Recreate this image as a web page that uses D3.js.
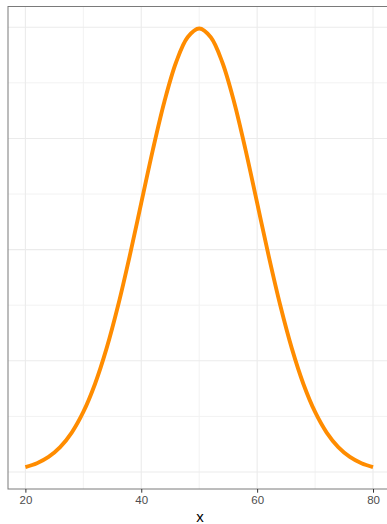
<!DOCTYPE html>
<html><head><meta charset="utf-8">
<script src="https://cdn.jsdelivr.net/npm/d3@7"></script>
<style>body{margin:0;background:#fff}svg{display:block}</style>
</head><body>
<svg id="c" width="387" height="524"></svg>
<script>
// Values (density curve)
const xValues = [20,22,24,26,28,30,32,34,36,38,40,42,44,46,48,50,52,54,56,58,60,62,64,66,68,70,72,74,76,78,80];
const yValues = [0.000443,0.000792,0.001358,0.00224,0.003547,0.005399,0.007895,0.011092,0.014973,0.019419,0.024197,0.028969,0.033322,0.036827,0.039104,0.039894,0.039104,0.036827,0.033322,0.028969,0.024197,0.019419,0.014973,0.011092,0.007895,0.005399,0.003547,0.00224,0.001358,0.000792,0.000443];
const xTicks = [20,40,60,80];
const xMinor = [30,50,70];
const yMajor = [0,0.01,0.02,0.03,0.04];
const yMinor = [0.005,0.015,0.025,0.035];
const xTitle = "x";

const svg = d3.select("#c");
const L = 8, T = 6.5, R = 390.4, B = 489;
const xr = d3.extent(xValues), yr = d3.extent(yValues);
const xe = (xr[1]-xr[0])*0.05, ye = (yr[1]-yr[0])*0.05;
const x = d3.scaleLinear().domain([xr[0]-xe, xr[1]+xe]).range([L, R]);
const y = d3.scaleLinear().domain([yr[0]-ye, yr[1]+ye]).range([B, T]);

const g = svg.append("g");
// minor grid
g.selectAll(".xm").data(xMinor).join("line")
  .attr("x1", d=>x(d)).attr("x2", d=>x(d)).attr("y1", T).attr("y2", B)
  .attr("stroke", "#f2f2f2").attr("stroke-width", 1);
g.selectAll(".ym").data(yMinor).join("line")
  .attr("y1", d=>y(d)).attr("y2", d=>y(d)).attr("x1", L).attr("x2", R)
  .attr("stroke", "#f2f2f2").attr("stroke-width", 1);
// major grid
g.selectAll(".xM").data(xTicks).join("line")
  .attr("x1", d=>x(d)).attr("x2", d=>x(d)).attr("y1", T).attr("y2", B)
  .attr("stroke", "#ebebeb").attr("stroke-width", 1.1);
g.selectAll(".yM").data(yMajor).join("line")
  .attr("y1", d=>y(d)).attr("y2", d=>y(d)).attr("x1", L).attr("x2", R)
  .attr("stroke", "#ebebeb").attr("stroke-width", 1.1);

// curve
const pts = xValues.map((v,i)=>[v, yValues[i]]);
svg.append("path").datum(pts)
  .attr("d", d3.line().x(d=>x(d[0])).y(d=>y(d[1])).curve(d3.curveCatmullRom))
  .attr("fill", "none").attr("stroke", "#FF8C00").attr("stroke-width", 3.9)
  .attr("stroke-linecap", "butt").attr("stroke-linejoin", "round");

// border
svg.append("rect").attr("x", L).attr("y", T).attr("width", R-L).attr("height", B-T)
  .attr("fill", "none").attr("stroke", "#7a7a7a").attr("stroke-width", 1);

// x axis
const ax = svg.append("g").attr("transform", `translate(0,${B})`)
  .call(d3.axisBottom(x).tickValues(xTicks).tickSize(3.7).tickPadding(3).tickFormat(d3.format("d")));
ax.select(".domain").remove();
ax.selectAll(".tick line").attr("stroke", "#333333").attr("stroke-width", 1);
ax.selectAll(".tick text").attr("fill", "#4d4d4d").attr("font-size", "11.5px")
  .attr("font-family", "Liberation Sans, Arial, sans-serif");

svg.append("text").attr("x", (L+R)/2 + 0.8).attr("y", 522)
  .attr("text-anchor", "middle").attr("font-size", "15px")
  .attr("font-family", "Liberation Sans, Arial, sans-serif").attr("fill", "#000")
  .text(xTitle);
</script>
</body></html>
